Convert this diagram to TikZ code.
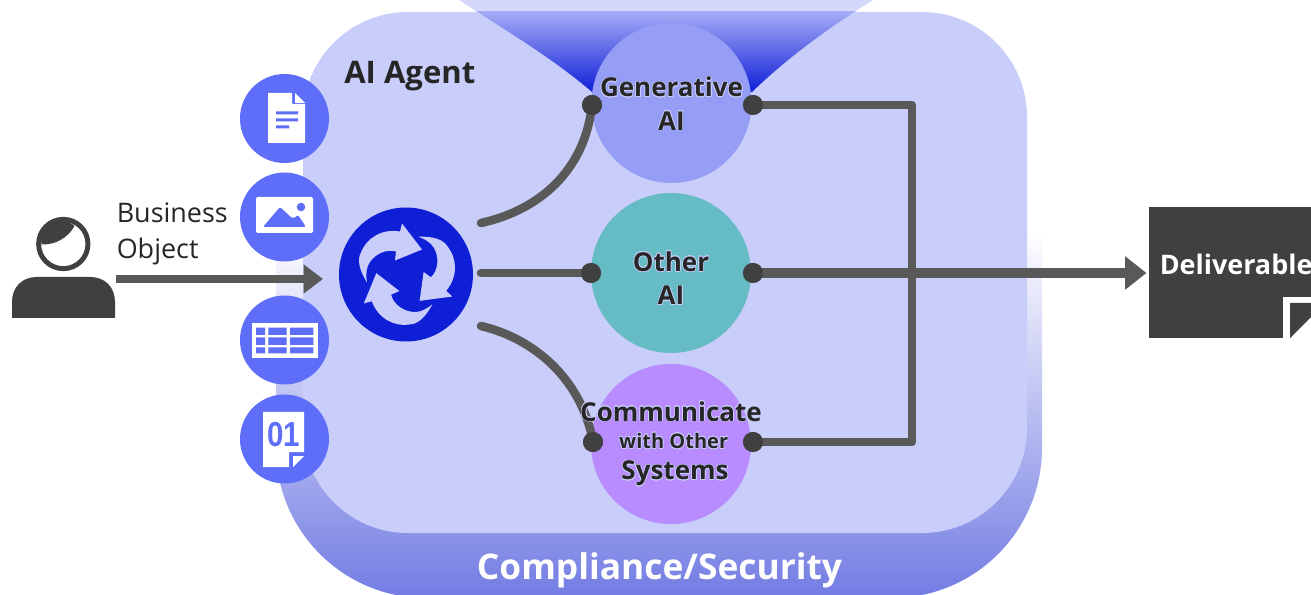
\documentclass[tikz,border=0pt]{standalone}
\usepackage{fontspec}
\setmainfont{Open Sans}
\newfontfamily\numfont{Liberation Sans}
\usepackage[copies]{contour}
\usetikzlibrary{arrows.meta}
\contourlength{0.5pt}
\definecolor{innerc}{HTML}{C9CDFA}
\definecolor{outerc}{HTML}{6E78E2}
\definecolor{iconc}{HTML}{5E6EF8}
\definecolor{hubc}{HTML}{0F1FD6}
\definecolor{genc}{HTML}{959DF5}
\definecolor{otherc}{HTML}{66BCC4}
\definecolor{commc}{HTML}{B88CFF}
\definecolor{darkc}{HTML}{404040}
\definecolor{linec}{HTML}{595959}
\definecolor{inkc}{HTML}{262626}
\definecolor{funtop}{HTML}{A4ABF6}
\definecolor{funlight}{HTML}{D5D8FA}
\newcommand{\fs}[2]{\fontsize{#1}{#2}\selectfont}
\newcommand{\halo}[2][innerc]{\contour{#1}{#2}}
\tikzset{
  x=0.75pt,y=-0.75pt,
  aicircle/.style={circle,draw=none,minimum size=120pt,inner sep=0pt},
  iconcircle/.style={circle,fill=iconc,draw=none,minimum size=66.75pt,inner sep=0pt},
  dotn/.style={circle,fill=darkc,draw=none,minimum size=15pt,inner sep=0pt},
  conn/.style={draw=linec,line width=6.4pt,line cap=round,line join=round},
  arrowline/.style={draw=linec,line width=6.4pt},
  label/.style={font=\bfseries\fs{19.5}{25},text=inkc,align=center,inner sep=0pt},
}
\begin{document}
\begin{tikzpicture}
\useasboundingbox (0,0) rectangle (1311,595);
\clip (0,0) rectangle (1311,595);
\fill[white] (0,0) rectangle (1311,595);
% outer compliance shape
\begin{scope}
  \clip[rounded corners=112.5pt] (276,60) rectangle (1042,598);
  \shade[top color=white,bottom color=outerc] (260,230) rectangle (1060,610);
\end{scope}
% inner agent
\fill[innerc,rounded corners=78.75pt] (303,12) rectangle (1027,533);
% funnel
\begin{scope}
  \clip (459,0) .. controls (510,33) and (555,60) .. (592,92) -- (752,92) .. controls (785,60) and (825,30) .. (873,0) -- cycle;
  \fill[funlight] (440,0) rectangle (890,12);
  \shade[top color=funtop,bottom color=hubc] (440,12) rectangle (890,92);
\end{scope}
% AI circles
\node[aicircle,fill=genc] (gen) at (671.5,103) {};
\node[aicircle,fill=otherc] (other) at (671,273) {};
\node[aicircle,fill=commc] (comm) at (671,444) {};
% icons
\node[iconcircle] (ic1) at (284.5,118.5) {};
\node[iconcircle] (ic2) at (284.5,217) {};
\node[iconcircle] (ic3) at (284.5,340) {};
\node[iconcircle] (ic4) at (284.5,439) {};
% icon 1
\fill[white] (268,93) -- (292,93) -- (292,104) -- (305,104) -- (305,143) -- (268,143) -- cycle;
\fill[white] (295,93) -- (305,103) -- (295,103) -- cycle;
\fill[iconc] (276,111.5) rectangle (298,114.5) (276,118.5) rectangle (298,121.5) (276,125.5) rectangle (289,128.5);
% icon 2
\fill[white,rounded corners=1pt] (256,197) rectangle (313,233);
\fill[iconc] (301,207) circle (3.2pt);
\fill[iconc,rounded corners=1.5pt] (263,227) -- (280,207) -- (293,219) -- (298,215) -- (306,227) -- cycle;
% icon 3
\fill[white] (252,323) rectangle (318,358);
\fill[iconc] (256,327.7) rectangle (265,335) (268.3,327.7) rectangle (286.7,335) (290,327.7) rectangle (313.3,335)
  (256,337.3) rectangle (265,345) (268.3,337.3) rectangle (286.7,345) (290,337.3) rectangle (313.3,345)
  (256,347.3) rectangle (265,353.3) (268.3,347.3) rectangle (286.7,353.3) (290,347.3) rectangle (313.3,353.3);
% icon 4
\fill[white] (263,412) -- (304,412) -- (304,452) -- (289,452) -- (289,467) -- (263,467) -- cycle;
\fill[white] (293,456) -- (304,456) -- (293,467) -- cycle;
\node[inner sep=0pt,text=iconc,font=\numfont\bfseries\fs{26}{26},xscale=0.85] (num) at (283.5,435) {01};
% hub
\node[circle,fill=hubc,draw=none,minimum size=100.5pt,inner sep=0pt] (hub) at (406,274.5) {};
\foreach \r in {0,-120,-240}{
  \fill[innerc,shift={(hub.center)},rotate=\r]
    (-39,8) .. controls (-47,-5) and (-49,-15) .. (-45,-22)
    .. controls (-39,-37) and (-24,-46) .. (-6,-43)
    -- (-4,-51) -- (16,-25) -- (-11,-14) -- (-10,-23)
    .. controls (-20,-26) and (-33,-20) .. (-38,-9)
    .. controls (-40,-4) and (-40,2) .. (-39,8) -- cycle;
}
% person
\draw[darkc,line width=3.7pt,fill=white] (63.3,244) circle (18.5pt);
\fill[darkc] (41.5,244.5) .. controls (55,245) and (68,238) .. (74.5,226) .. controls (62,214) and (38,222) .. (41.5,244.5) -- cycle;
\path[fill=darkc] (12,318) -- (12,302) .. controls (12,287) and (22,277) .. (37,277) -- (90,277) .. controls (105,277) and (115,287) .. (115,302) -- (115,318) -- cycle;
\coordinate (persR) at (116,279);
\coordinate (hubL) at (323,279);
\draw[arrowline,-{Triangle[length=14.6pt,width=21pt]}] (persR) -- (hubL);
\node[anchor=north west,inner sep=0pt,align=left,text=inkc,font=\fs{20.2}{27}] (biz) at (116.5,202) {Business\\Object};
% connectors
\node[dotn] (g1) at (592,105) {};
\node[dotn] (g2) at (753,105) {};
\node[dotn] (o1) at (591,273) {};
\node[dotn] (o2) at (753,273) {};
\node[dotn] (c1) at (593,442) {};
\node[dotn] (c2) at (753,442) {};
\coordinate (h1) at (481,223);
\coordinate (h2) at (481,273);
\coordinate (h3) at (481,326);
\draw[conn] (h1) .. controls (540,210) and (585,170) .. (g1.center);
\draw[conn] (h2) -- (o1.center);
\draw[conn] (h3) .. controls (540,340) and (583,385) .. (c1.center);
\coordinate (jt) at (912,103.5);
\coordinate (jb) at (912,442);
\draw[conn,line cap=butt] (g2.center) -- (g2.center -| jt) -- (jb) -- (c2.center);
% deliverable
\fill[darkc] (1148.5,207.5) rectangle (1311,338);
\fill[white] (1283,297) rectangle (1311,338);
\fill[darkc] (1290,303) -- (1311,303) -- (1311,317) -- (1290,338) -- cycle;
\coordinate (deliv) at (1146.5,273);
\draw[arrowline,line width=7pt,-{Triangle[length=16pt,width=24pt]}] (o2.center) -- (deliv);
\node[dotn] at (g1) {}; \node[dotn] at (g2) {}; \node[dotn] at (o1) {};
\node[dotn] at (o2) {}; \node[dotn] at (c1) {}; \node[dotn] at (c2) {};
% labels
\node[anchor=west,inner sep=0pt,text=white,font=\bfseries\fs{20.2}{25}] (dl) at (1159.5,264.5) {Deliverable};
\node[anchor=west,inner sep=0pt,text=inkc,font=\bfseries\fs{23.3}{25}] (agent) at (344,76) {AI Agent};
\node[inner sep=0pt,text=white,font=\bfseries\fs{26.5}{30}] (cs) at (659.5,570) {Compliance/Security};
\node[label] (gl) at (671.5,104) {\halo{Generative}\\\halo{AI}};
\node[label] (ol) at (671,278.5) {\halo{Other}\\\halo{AI}};
\node[label] (cl) at (671,444) {\halo{Communicate}\\[-4.5pt]\hspace*{4pt}{\fs{15}{20}\halo{with Other}}\\[-1.5pt]\hspace*{6pt}\halo{Systems}};
\end{tikzpicture}
\end{document}
